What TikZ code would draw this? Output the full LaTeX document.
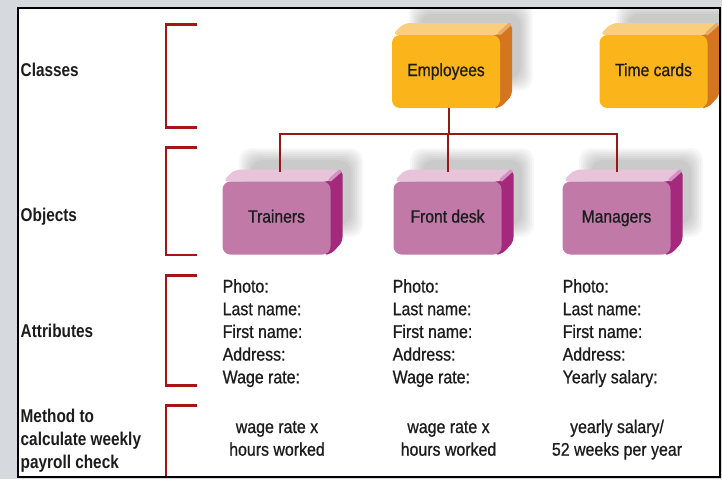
\documentclass[tikz,border=0pt]{standalone}
\usepackage{fontspec}
\setmainfont[FakeStretch=0.87,FakeBold=0.8]{Liberation Sans}
\newfontfamily\boxfont[FakeStretch=0.88,FakeBold=0.8]{Liberation Sans}
\newfontfamily\labfont[FakeStretch=0.83]{Liberation Sans}
\usetikzlibrary{calc}
\definecolor{bgc}{RGB}{214,218,222}
\definecolor{txt}{RGB}{28,28,28}
\definecolor{brk}{RGB}{164,22,22}
\definecolor{cnr}{RGB}{150,25,25}
\definecolor{orgF}{RGB}{251,180,25}
\definecolor{orgT}{RGB}{249,206,125}
\definecolor{orgS}{RGB}{212,118,32}
\definecolor{orgB}{RGB}{234,170,106}
\definecolor{pnkF}{RGB}{193,122,168}
\definecolor{pnkT}{RGB}{232,196,219}
\definecolor{pnkS}{RGB}{164,40,124}
\definecolor{pnkB}{RGB}{212,146,192}
\tikzset{
  bracketline/.style={draw=brk, line width=2.6pt},
  conn/.style={draw=cnr, line width=2pt},
  lab/.style={anchor=base west, inner sep=0pt, text=txt, font=\labfont\bfseries\fontsize{18.5}{20}\selectfont},
  attr/.style={anchor=base west, inner sep=0pt, text=txt, font=\fontsize{18.3}{20}\selectfont},
  meth/.style={anchor=base, inner sep=0pt, text=txt, font=\fontsize{18.3}{20}\selectfont},
  front/.style={rounded corners=8pt, minimum width=108pt, minimum height=73pt, inner sep=0pt,
    text=txt, text height=12.7pt, text depth=3.5pt, font=\boxfont\fontsize{17.8}{20}\selectfont},
}
\newcommand\cubeshape[5]{%
  \begin{scope}[shift={(#2,#3)}]
    \foreach \e in {8,6,4,2,0,-2,-4}{
      \fill[black, opacity=0.03, rounded corners=12pt]
        ({24.5-54-\e},{-25.5-36.5-\e}) rectangle ({24.5+54+\e},{-25.5+36.5+\e});
    }
    \fill[#5S, rounded corners=5pt] (46,-36.5) -- (66,-48.5) -- (66,24) -- (54,36.5) -- (46,36.5) -- cycle;
    \fill[#5T, rounded corners=6pt] (-54,-36.5) -- (-42,-48.5) -- (66,-48.5) -- (54,-36.5) -- cycle;
    \draw[#5B, line width=3.5pt, line cap=round] (53.5,-38) -- (63.5,-47);
  \end{scope}
  \node[front, fill=#5F] (#1) at (#2,#3) {#4};
}
\begin{document}
\begin{tikzpicture}[x=1pt, y=-1pt]
  \useasboundingbox (0,0) rectangle (722,479);
  \fill[bgc] (0,0) rectangle (722,479);
  \fill[white] (18,8) rectangle (720,477);
  \begin{scope}
    \clip (18,8) rectangle (720,477);
    % brackets
    \draw[bracketline] (197,24.5) -- (166,24.5) -- (166,127.5) -- (197,127.5);
    \draw[bracketline] (197,147.5) -- (166,147.5) -- (166,255) -- (197,255);
    \draw[bracketline] (197,275.5) -- (166,275.5) -- (166,385.5) -- (197,385.5);
    \draw[bracketline] (197,405.5) -- (166,405.5) -- (166,478) -- (197,478);
    % boxes
    \cubeshape{emp}{446}{71.5}{Employees}{org}
    \cubeshape{tc}{653.5}{71.5}{Time cards}{org}
    \cubeshape{tr}{276.5}{218}{Trainers}{pnk}
    \cubeshape{fd}{447.5}{218}{Front desk}{pnk}
    \cubeshape{mg}{616.5}{218}{Managers}{pnk}
    % connectors
    \draw[conn] ([xshift=3pt]emp.south) -- ++(0,26) coordinate (bus);
    \draw[conn] ([xshift=3.5pt,yshift=9pt]tr.north) |- (bus) -| ([xshift=0.5pt,yshift=9pt]mg.north);
    \draw[conn] ([xshift=0.5pt,yshift=9pt]fd.north) |- (bus);
  \end{scope}
  % left labels
  \node[lab] (lcls) at (20.5,76) {Classes};
  \node[lab] (lobj) at (20.5,221) {Objects};
  \node[lab] (latt) at (20.5,337.7) {Attributes};
  \node[lab] (lm1) at (20.5,422.5) {Method to};
  \node[lab] (lm2) at (20.5,445.3) {calculate weekly};
  \node[lab] (lm3) at (20.5,468.1) {payroll check};
  % attributes
  \foreach \t [count=\i] in {Photo:, Last name:, First name:, Address:, Wage rate:}{
    \node[attr] (a1\i) at (222.5,{292.5+22.7*(\i-1)}) {\t};
    \node[attr] (a2\i) at (392.5,{292.5+22.7*(\i-1)}) {\t};
  }
  \foreach \t [count=\i] in {Photo:, Last name:, First name:, Address:, Yearly salary:}{
    \node[attr] (a3\i) at (562.5,{292.5+22.7*(\i-1)}) {\t};
  }
  % methods
  \node[meth] (m11) at (277,433) {wage rate x};
  \node[meth] (m12) at (277,455.7) {hours worked};
  \node[meth] (m21) at (448.5,433) {wage rate x};
  \node[meth] (m22) at (448.5,455.7) {hours worked};
  \node[meth] (m31) at (617,433) {yearly salary/};
  \node[meth] (m32) at (617,455.7) {52 weeks per year};
  % panel border
  \draw[black, line width=2.6pt] (18,8) rectangle (720,477);
\end{tikzpicture}
\end{document}
